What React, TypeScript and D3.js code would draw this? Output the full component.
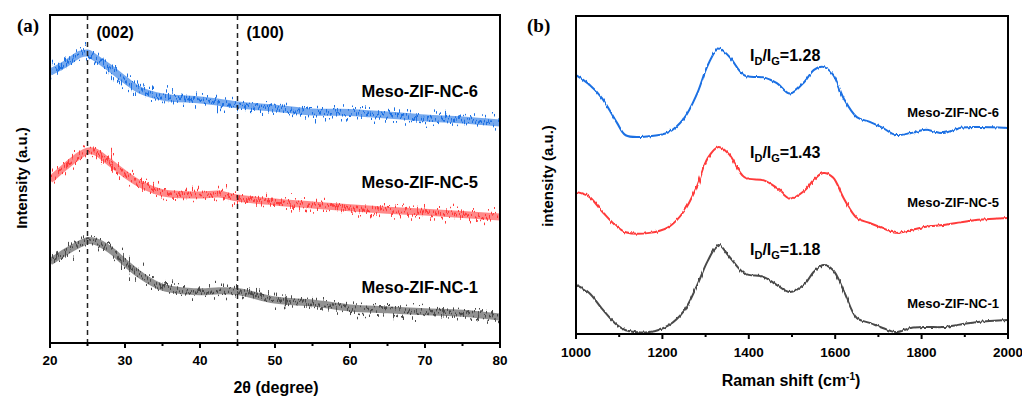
import * as d3 from 'd3';
import * as React from 'react';

// (a) XRD, 2θ in degree
const xrdAngles = [20, 22, 24, 25, 26, 28, 30, 32, 35, 40, 42.5, 45, 50, 55, 60, 65, 70, 75, 80];
const xrdNC6 = [82.6, 85.0, 88.0, 88.4, 87.0, 83.8, 80.2, 77.1, 75.0, 74.1, 73.4, 72.6, 71.6, 70.4, 70.3, 69.5, 68.6, 68.0, 67.1];
const xrdNC5 = [49.7, 53.7, 57.3, 58.5, 58.3, 55.0, 51.5, 48.5, 45.8, 45.1, 45.4, 44.2, 43.0, 42.1, 41.2, 40.5, 39.9, 39.2, 38.4];
const xrdNC1 = [24.7, 27.7, 30.2, 31.2, 31.0, 28.5, 24.5, 20.8, 17.0, 15.6, 15.9, 15.7, 13.1, 12.2, 10.7, 10.1, 9.5, 9.1, 7.9];
const xrdPeaks = [25, 45];
const xrdPeakLabels = ['(002)', '(100)'];

// (b) Raman, shift in cm-1
const ramanShift = [1000, 1030, 1060, 1095, 1115, 1170, 1215, 1250, 1280, 1305, 1330, 1355, 1390, 1435, 1465, 1495, 1530, 1550, 1572, 1595, 1620, 1650, 1680, 1710, 1740, 1775, 1810, 1850, 1890, 1930, 2000];
const ramanNC6 = [81.4, 78.5, 74.2, 66.4, 62.5, 62.2, 63.5, 67.8, 75.5, 84.5, 89.8, 87.2, 81.3, 80.7, 78.9, 75.6, 79.5, 83.0, 84.0, 81.6, 74.0, 68.2, 66.7, 64.8, 62.6, 63.2, 64.2, 63.2, 64.8, 65.1, 64.8];
const ramanNC5 = [44.7, 43.2, 38.6, 33.7, 32.0, 31.8, 33.7, 38.6, 46.4, 55.3, 58.8, 56.4, 49.3, 48.3, 45.9, 42.6, 45.2, 48.4, 50.6, 49.2, 42.6, 36.5, 34.9, 33.3, 31.8, 32.7, 33.7, 34.3, 35.1, 35.9, 36.5];
const ramanNC1 = [15.4, 13.0, 8.0, 2.8, 1.2, 0.6, 2.8, 7.3, 15.2, 23.0, 28.0, 24.3, 19.1, 17.9, 15.4, 13.2, 15.8, 19.5, 21.7, 20.1, 13.5, 5.0, 3.5, 1.9, 0.6, 1.9, 2.2, 2.2, 3.0, 3.8, 4.4];
const ratios = ['1.28', '1.43', '1.18'];

const sampleNames = ['Meso-ZIF-NC-6', 'Meso-ZIF-NC-5', 'Meso-ZIF-NC-1'];
const colors = ['#1a6fe3', '#ff3a3a', '#4a4a4a'];

const font = 'Arial, "Liberation Sans", sans-serif';
const serif = '"Times New Roman", "Liberation Serif", serif';

const App = () => {
  const ax = d3.scaleLinear().domain([20, 80]).range([50, 500]);
  const ay = d3.scaleLinear().domain([0, 100]).range([343, 15]);
  const bx = d3.scaleLinear().domain([1000, 2000]).range([576, 1008]);
  const by = d3.scaleLinear().domain([0, 100]).range([334, 16]);

  const xrdLine = d3
    .line<number>()
    .x((d, i) => ax(xrdAngles[i]))
    .y((d) => ay(d))
    .curve(d3.curveCatmullRom.alpha(0.5));
  const ramanLine = d3
    .line<number>()
    .x((d, i) => bx(ramanShift[i]))
    .y((d) => by(d))
    .curve(d3.curveCatmullRom.alpha(0.5));

  const xrd = [xrdNC6, xrdNC5, xrdNC1];
  const raman = [ramanNC6, ramanNC5, ramanNC1];

  // label anchors follow the curve tails
  const aLabelY = [97, 188, 293];
  const bLabelY = [117, 207, 308];
  const ratioY = [61, 158, 255];

  return (
    <svg width={1022} height={396} style={{ position: 'absolute', left: 0, top: 0, background: '#fff' }}>
      <defs>
        <filter id="xrdNoise" x="-3%" y="-40%" width="106%" height="180%">
          <feTurbulence type="fractalNoise" baseFrequency="0.9 0.03" numOctaves="2" seed="4" result="n" />
          <feDisplacementMap in="SourceGraphic" in2="n" scale="30" xChannelSelector="R" yChannelSelector="G" />
        </filter>
        <filter id="ramanNoise" x="-3%" y="-20%" width="106%" height="140%">
          <feTurbulence type="fractalNoise" baseFrequency="0.5 0.05" numOctaves="1" seed="2" result="n" />
          <feDisplacementMap in="SourceGraphic" in2="n" scale="3" xChannelSelector="R" yChannelSelector="G" />
        </filter>
        <clipPath id="clipA">
          <rect x={ax(20)} y={ay(100)} width={ax(80) - ax(20)} height={ay(0) - ay(100)} />
        </clipPath>
        <clipPath id="clipB">
          <rect x={bx(1000)} y={by(100)} width={bx(2000) - bx(1000)} height={by(0) - by(100)} />
        </clipPath>
      </defs>

      {/* ---------- (a) ---------- */}
      <text x={17} y={32} fontFamily={serif} fontWeight="bold" fontSize={19}>
        (a)
      </text>
      <g clipPath="url(#clipA)">
        {xrd.map((s, i) => (
          <g key={i}>
            <path d={xrdLine(s) || ''} fill="none" stroke={colors[i]} strokeOpacity={0.6} strokeWidth={7} />
            <path d={xrdLine(s) || ''} fill="none" stroke={colors[i]} strokeWidth={2.5} filter="url(#xrdNoise)" />
          </g>
        ))}
      </g>
      {xrdPeaks.map((p, i) => (
        <g key={p}>
          <line x1={ax(p)} x2={ax(p)} y1={ay(100)} y2={ay(0)} stroke="#222" strokeWidth={1.5} strokeDasharray="5,4" />
          <text x={ax(p) + 9} y={38} fontFamily={font} fontWeight="bold" fontSize={16}>
            {xrdPeakLabels[i]}
          </text>
        </g>
      ))}
      {sampleNames.map((n, i) => (
        <text key={n} x={478} y={aLabelY[i]} textAnchor="end" fontFamily={font} fontWeight="bold" fontSize={16.5}>
          {n}
        </text>
      ))}
      <rect x={ax(20)} y={ay(100)} width={ax(80) - ax(20)} height={ay(0) - ay(100)} fill="none" stroke="#000" strokeWidth={2} />
      {d3.range(20, 81, 5).map((t) => (
        <line key={t} x1={ax(t)} x2={ax(t)} y1={ay(0)} y2={ay(0) + (t % 10 === 0 ? 5 : 3)} stroke="#000" strokeWidth={2} />
      ))}
      {ax.ticks(6).map((t) => (
        <text key={t} x={ax(t)} y={365} textAnchor="middle" fontFamily={font} fontWeight="bold" fontSize={13.5}>
          {t}
        </text>
      ))}
      <text x={276} y={393} textAnchor="middle" fontFamily={font} fontWeight="bold" fontSize={16}>
        2θ (degree)
      </text>
      <text transform="translate(27,178) rotate(-90)" textAnchor="middle" fontFamily={font} fontWeight="bold" fontSize={15}>
        Intensity (a.u.)
      </text>

      {/* ---------- (b) ---------- */}
      <text x={527} y={32} fontFamily={serif} fontWeight="bold" fontSize={19}>
        (b)
      </text>
      <g clipPath="url(#clipB)">
        {raman.map((s, i) => (
          <path key={i} d={ramanLine(s) || ''} fill="none" stroke={colors[i]} strokeWidth={2} filter="url(#ramanNoise)" />
        ))}
      </g>
      {ratios.map((r, i) => (
        <text key={r} x={750} y={ratioY[i]} fontFamily={font} fontWeight="bold" fontSize={16}>
          I
          <tspan fontSize={11} dy={4}>D</tspan>
          <tspan dy={-4}>/I</tspan>
          <tspan fontSize={11} dy={4}>G</tspan>
          <tspan dy={-4}>={r}</tspan>
        </text>
      ))}
      {sampleNames.map((n, i) => (
        <text key={n} x={999} y={bLabelY[i]} textAnchor="end" fontFamily={font} fontWeight="bold" fontSize={13}>
          {n}
        </text>
      ))}
      <rect x={bx(1000)} y={by(100)} width={bx(2000) - bx(1000)} height={by(0) - by(100)} fill="none" stroke="#000" strokeWidth={2} />
      {d3.range(1000, 2001, 100).map((t) => (
        <line key={t} x1={bx(t)} x2={bx(t)} y1={by(0)} y2={by(0) + (t % 200 === 0 ? 5 : 3)} stroke="#000" strokeWidth={2} />
      ))}
      {bx.ticks(5).map((t) => (
        <text key={t} x={bx(t)} y={357} textAnchor="middle" fontFamily={font} fontWeight="bold" fontSize={13.5}>
          {t}
        </text>
      ))}
      <text x={791} y={386} textAnchor="middle" fontFamily={font} fontWeight="bold" fontSize={16}>
        Raman shift (cm
        <tspan fontSize={10} dy={-6}>-1</tspan>
        <tspan dy={6}>)</tspan>
      </text>
      <text transform="translate(553,176) rotate(-90)" textAnchor="middle" fontFamily={font} fontWeight="bold" fontSize={15}>
        intensity (a.u.)
      </text>
    </svg>
  );
};

export default App;
